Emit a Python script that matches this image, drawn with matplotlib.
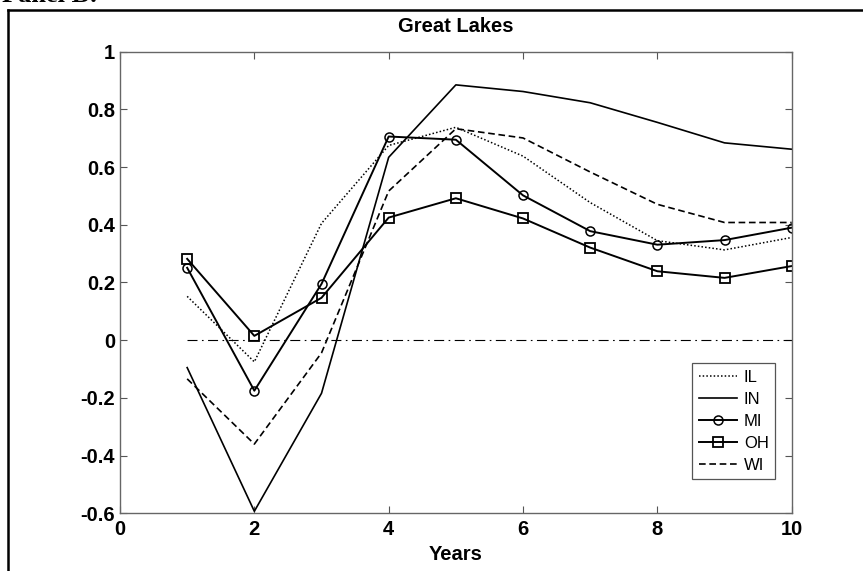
import numpy as np
import matplotlib.pyplot as plt

plt.rcParams['font.family'] = ['Liberation Sans', 'DejaVu Sans']

# orizzonte (anni) e risposte per stato
years = np.arange(1, 11)
IL = [0.152, -0.075, 0.405, 0.675, 0.738, 0.638, 0.477, 0.345, 0.313, 0.356]
IN = [-0.095, -0.593, -0.184, 0.634, 0.885, 0.862, 0.823, 0.755, 0.684, 0.662]
MI = [0.251, -0.175, 0.195, 0.706, 0.695, 0.502, 0.378, 0.331, 0.347, 0.390]
OH = [0.282, 0.015, 0.147, 0.425, 0.492, 0.422, 0.321, 0.239, 0.216, 0.257]
WI = [-0.134, -0.360, -0.044, 0.517, 0.733, 0.701, 0.583, 0.471, 0.408, 0.408]
zero_line = [0.0] * len(years)

xticks = [0, 2, 4, 6, 8, 10]
yticks = [-0.6, -0.4, -0.2, 0, 0.2, 0.4, 0.6, 0.8, 1]
ytick_labels = ['-0.6', '-0.4', '-0.2', '0', '0.2', '0.4', '0.6', '0.8', '1']

W, H = 863, 571
fs = 14.5  # testo assi e titolo
fig = plt.figure(figsize=(W / 100, H / 100), dpi=100)
ax = fig.add_axes([120 / W, 1 - 513.3 / H, (791.7 - 120) / W, (513.3 - 51.7) / H])

# cornice del pannello (solo lato sinistro e superiore)
fig.add_artist(plt.Line2D([7.5 / W, 7.5 / W], [0, 1 - 9.5 / H], color='black', lw=1.8,
                          transform=fig.transFigure))
fig.add_artist(plt.Line2D([7.5 / W, 1], [1 - 9.5 / H, 1 - 9.5 / H], color='black', lw=1.8,
                          transform=fig.transFigure))
fig.text(2 / W, 1 - 2 / H, 'Panel B:', family='Liberation Serif', weight='bold',
         fontsize=19, va='baseline', ha='left')

ax.plot(years, zero_line, color='black', lw=0.8, ls=(0, (9, 4, 1.5, 4)))
ax.plot(years, IL, color='black', lw=1.1, ls=(0, (1, 1.4)), label='IL')
ax.plot(years, IN, color='black', lw=1.2, ls='-', label='IN')
ax.plot(years, MI, color='black', lw=1.4, ls='-', marker='o', ms=6.5,
        mfc='none', mec='black', mew=1.1, label='MI')
ax.plot(years, OH, color='black', lw=1.4, ls='-', marker='s', ms=6.5,
        mfc='none', mec='black', mew=1.3, label='OH')
ax.plot(years, WI, color='black', lw=1.2, ls=(0, (4, 2.2)), label='WI')

ax.set_xlim(0, 10)
ax.set_ylim(-0.6, 1)
ax.set_xticks(xticks)
ax.set_xticklabels([str(t) for t in xticks], fontsize=fs, weight='bold')
ax.set_yticks(yticks)
ax.set_yticklabels(ytick_labels, fontsize=fs, weight='bold')
ax.tick_params(axis='both', direction='in', length=5, width=0.8, color='#555555',
               top=True, right=True)
ax.tick_params(axis='x', pad=5)
ax.tick_params(axis='y', pad=3.6)
for s in ax.spines.values():
    s.set_color('#666666')
    s.set_linewidth(1.0)

ax.set_title('Great Lakes', fontsize=fs, weight='bold', pad=14)
ax.set_xlabel('Years', fontsize=fs, weight='bold', labelpad=4)

leg = ax.legend(loc='upper left', bbox_to_anchor=(0.852, 0.3256), borderaxespad=0,
                fontsize=12, handlelength=2.3, handletextpad=0.4, labelspacing=0.42,
                fancybox=False, framealpha=1, edgecolor='#555555', borderpad=0.4)
leg.get_frame().set_linewidth(0.9)

plt.savefig('out.png', dpi=100)
